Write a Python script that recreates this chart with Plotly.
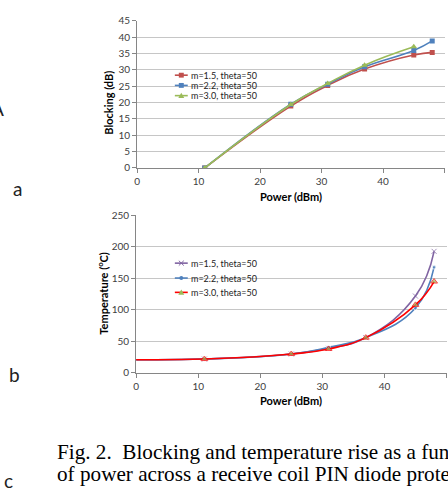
import plotly.graph_objects as go

W, H = 448, 499

# ---- data: blocking chart (a) ----
power_block = [11, 25, 31, 37, 45, 48]
block_m15 = [0, 18.9, 25.2, 30.2, 34.5, 35.3]
block_m22 = [0, 19.5, 25.6, 30.9, 35.9, 38.8]
power_block_m30 = [11, 25, 31, 37, 45]
block_m30 = [0, 19.4, 25.8, 31.4, 37.0]

# ---- data: temperature chart (b) ----
power_temp = [0, 11, 25, 31, 37, 45, 48]
temp_m15 = [21, 22, 30, 39, 56, 122, 193]
temp_m22 = [21, 22, 30, 40.5, 56, 103, 168]
temp_m30 = [21, 22, 30, 38, 56, 108, 145]

series_names = ["m=1.5, theta=50", "m=2.2, theta=50", "m=3.0, theta=50"]
x_ticks = [0, 10, 20, 30, 40, 50]
block_ticks = [0, 5, 10, 15, 20, 25, 30, 35, 40, 45]
temp_ticks = [0, 50, 100, 150, 200, 250]

RED = "#C0504D"
BLUE = "#4F81BD"
GREEN = "#9BBB59"
PURPLE = "#8064A2"
BRIGHT_RED = "#FF0000"
GRID = "#C6C6C6"
AXIS = "#868686"
TICKC = "#404040"
SANS = "Lato, 'Open Sans', sans-serif"
SERIF = "'Liberation Serif', 'Times New Roman', serif"


def px(x):
    return x / W


def py(y):
    return 1 - y / H


fig = go.Figure()
nomark0 = [0] + [1] * (len(power_temp) - 1)
SM = 1.3

# chart a
fig.add_trace(go.Scatter(x=power_block, y=block_m15, mode="lines+markers",
                         line=dict(color=RED, width=1.6, shape="spline", smoothing=SM),
                         marker=dict(symbol="square", size=5, color=RED),
                         xaxis="x", yaxis="y", showlegend=False))
fig.add_trace(go.Scatter(x=power_block, y=block_m22, mode="lines+markers",
                         line=dict(color=BLUE, width=1.6, shape="spline", smoothing=SM),
                         marker=dict(symbol="square", size=5, color=BLUE),
                         xaxis="x", yaxis="y", showlegend=False))
fig.add_trace(go.Scatter(x=power_block_m30, y=block_m30, mode="lines+markers",
                         line=dict(color=GREEN, width=1.6, shape="spline", smoothing=SM),
                         marker=dict(symbol="triangle-up", size=6, color=GREEN),
                         xaxis="x", yaxis="y", showlegend=False))

# chart b
fig.add_trace(go.Scatter(x=power_temp, y=temp_m15, mode="lines+markers",
                         line=dict(color=PURPLE, width=1.6, shape="spline", smoothing=SM),
                         marker=dict(symbol="x-thin", size=[5 * v for v in nomark0],
                                     line=dict(color=PURPLE, width=1), color=PURPLE),
                         xaxis="x2", yaxis="y2", showlegend=False))
fig.add_trace(go.Scatter(x=power_temp, y=temp_m22, mode="lines+markers",
                         line=dict(color=BLUE, width=1.6, shape="spline", smoothing=SM),
                         marker=dict(symbol="circle", size=[4 * v for v in nomark0], color=BLUE),
                         xaxis="x2", yaxis="y2", showlegend=False))
fig.add_trace(go.Scatter(x=power_temp, y=temp_m30, mode="lines+markers",
                         line=dict(color=BRIGHT_RED, width=1.6, shape="spline", smoothing=SM),
                         marker=dict(symbol="triangle-up", size=[6 * v for v in nomark0], color=GREEN),
                         xaxis="x2", yaxis="y2", showlegend=False))

tickfont = dict(family=SANS, size=10, color=TICKC)
common_x = dict(range=[0, 50], tickvals=x_ticks, showgrid=False, showline=True,
                linecolor=AXIS, linewidth=1, ticks="outside", ticklen=4, tickcolor=AXIS,
                tickfont=tickfont, zeroline=False, fixedrange=True)
common_y = dict(showgrid=True, gridcolor=GRID, gridwidth=1, showline=True,
                linecolor=AXIS, linewidth=1, ticks="outside", ticklen=4, tickcolor=AXIS,
                tickfont=tickfont, zeroline=False, fixedrange=True)

fig.update_layout(
    width=W, height=H, margin=dict(l=0, r=0, t=0, b=0),
    paper_bgcolor="white", plot_bgcolor="white", showlegend=False,
    xaxis=dict(domain=[px(135), px(444.5)], anchor="y", **common_x),
    yaxis=dict(domain=[py(165.3), py(14)], anchor="x", range=[0, 45],
               tickvals=block_ticks, **common_y),
    xaxis2=dict(domain=[px(134), px(446.5)], anchor="y2", **common_x),
    yaxis2=dict(domain=[py(375.7), py(214)], anchor="x2", range=[0, 250],
                tickvals=temp_ticks, **common_y),
)

shapes = []
annotations = []


def ann(x, y, text, size, angle=0, xanchor="center", family=SANS, color="#000000"):
    annotations.append(dict(x=px(x), y=py(y), xref="paper", yref="paper", text=text,
                            showarrow=False, textangle=angle, xanchor=xanchor, yanchor="middle",
                            font=dict(family=family, size=size, color=color)))


# axis titles
ann(106, 98, "<b>Blocking (dB)</b>", 11, angle=-90)
ann(290, 195, "<b>Power (dBm)</b>", 11)
ann(100, 294, "<b>Temperature (<sup>o</sup>C)</b>", 11, angle=-90)
ann(290, 404, "<b>Power (dBm)</b>", 11)

# panel letters
ann(3, 104, "A", 19, xanchor="right", color="#222222")
ann(15, 186, "a", 19, color="#222222")
ann(12, 377, "b", 19, color="#222222")
ann(6, 486, "c", 19, color="#222222")

# caption
ann(52, 457, "Fig. 2.\u00a0 Blocking and temperature rise as a function", 21.2, xanchor="left",
    family=SERIF)
ann(52, 479, "of power across a receive coil PIN diode protection", 21.2, xanchor="left",
    family=SERIF)


# manual legends
def rect_px(x0, y0, x1, y1, fill, layer="above"):
    shapes.append(dict(type="rect", xref="paper", yref="paper",
                       x0=px(x0), x1=px(x1), y0=py(y1), y1=py(y0),
                       fillcolor=fill, line=dict(width=0), layer=layer))


def line_px(x0, y0, x1, y1, color, width=1.6):
    shapes.append(dict(type="line", xref="paper", yref="paper",
                       x0=px(x0), x1=px(x1), y0=py(y0), y1=py(y1),
                       line=dict(color=color, width=width), layer="above"))


def marker_px(kind, xc, yc, color):
    if kind == "square":
        rect_px(xc - 2.5, yc - 2.5, xc + 2.5, yc + 2.5, color)
    elif kind == "circle":
        shapes.append(dict(type="circle", xref="paper", yref="paper",
                           x0=px(xc - 2), x1=px(xc + 2), y0=py(yc + 2), y1=py(yc - 2),
                           fillcolor=color, line=dict(width=0), layer="above"))
    elif kind == "triangle":
        path = "M {},{} L {},{} L {},{} Z".format(px(xc - 3), py(yc + 2.5), px(xc + 3), py(yc + 2.5),
                                                    px(xc), py(yc - 3))
        shapes.append(dict(type="path", xref="paper", yref="paper", path=path,
                           fillcolor=color, line=dict(width=0), layer="above"))
    elif kind == "x":
        line_px(xc - 2.5, yc - 2.5, xc + 2.5, yc + 2.5, color, 1)
        line_px(xc - 2.5, yc + 2.5, xc + 2.5, yc - 2.5, color, 1)


legend_a = [(70, RED, "square", RED), (80.5, BLUE, "square", BLUE), (91, GREEN, "triangle", GREEN)]
legend_b = [(263, PURPLE, "x", PURPLE), (278.3, BLUE, "circle", BLUE), (293, BRIGHT_RED, "triangle", GREEN)]

rect_px(168, 64, 257, 97, "white", layer="between")
rect_px(163, 254, 260, 300, "white", layer="between")

for (yc, lc, mk, mc), name in zip(legend_a, series_names):
    line_px(173, yc, 186, yc, lc)
    marker_px(mk, 179.5, yc, mc)
    ann(187, yc, name, 9, xanchor="left", color="#222222")

for (yc, lc, mk, mc), name in zip(legend_b, series_names):
    line_px(173, yc, 186, yc, lc)
    marker_px(mk, 179.5, yc, mc)
    ann(187, yc, name, 9, xanchor="left", color="#222222")

fig.update_layout(shapes=shapes, annotations=annotations)

fig.write_html("out.html", config={"displayModeBar": False},
               post_script="document.body.style.margin='0';")
